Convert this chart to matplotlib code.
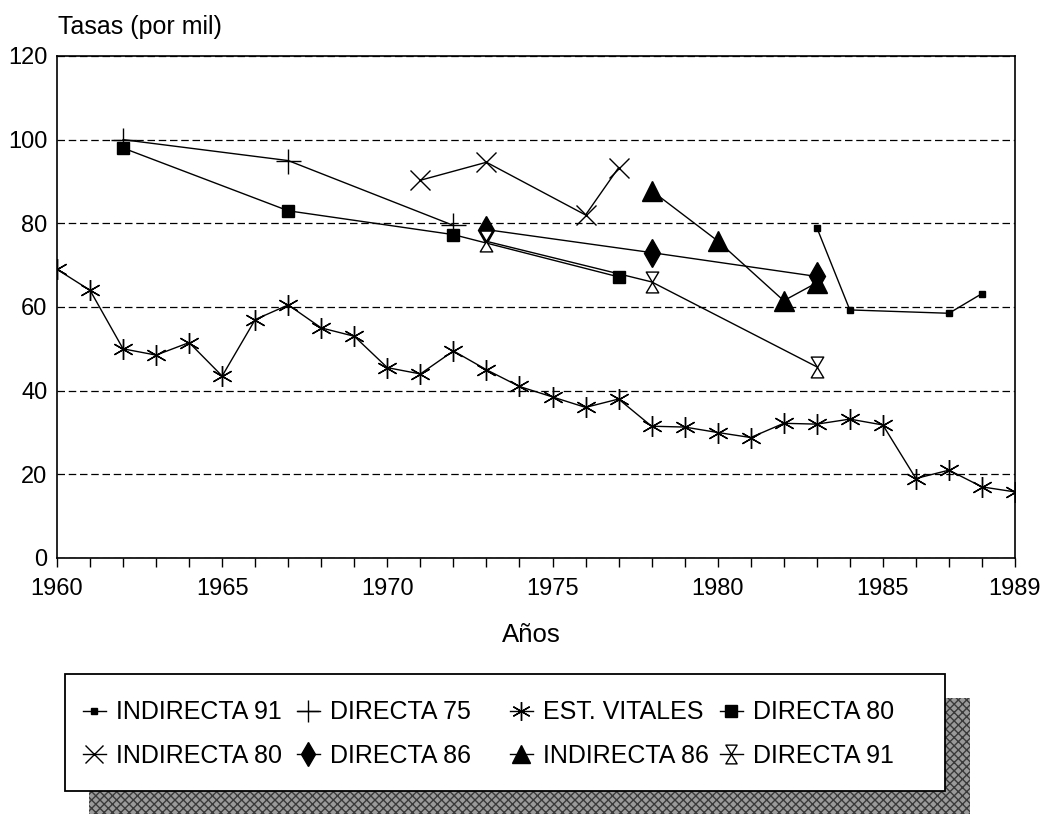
import numpy as np
import matplotlib
matplotlib.use("Agg")
import matplotlib.pyplot as plt
from matplotlib.path import Path
from matplotlib.patches import Rectangle
from matplotlib.ticker import MultipleLocator

plt.rcParams["font.family"] = ["Liberation Sans", "DejaVu Sans"]

# --- data ---
years_ev = [1960, 1961, 1962, 1963, 1964, 1965, 1966, 1967, 1968, 1969,
            1970, 1971, 1972, 1973, 1974, 1975, 1976, 1977, 1978, 1979,
            1980, 1981, 1982, 1983, 1984, 1985, 1986, 1987, 1988, 1989]
est_vitales = [69, 64, 50, 48.5, 51.5, 43.5, 57, 60.5, 55, 53,
               45.5, 44, 49.5, 45, 41, 38.5, 36, 38, 31.5, 31.3,
               30, 28.8, 32.2, 32, 33.2, 31.8, 19, 21, 17, 15.8]

years_d75 = [1962, 1967, 1972]
directa_75 = [100, 95, 79.5]

years_d80 = [1962, 1967, 1972, 1977]
directa_80 = [98, 83, 77.3, 67.2]

years_i80 = [1971, 1973, 1976, 1977]
indirecta_80 = [90.3, 94.6, 82, 93.3]

years_d86 = [1973, 1978, 1983]
directa_86 = [78.5, 73, 67.3]

years_i86 = [1978, 1980, 1982, 1983]
indirecta_86 = [87.8, 75.8, 61.5, 65.8]

years_d91 = [1973, 1978, 1983]
directa_91 = [75.7, 66, 45.7]

years_i91 = [1983, 1984, 1987, 1988]
indirecta_91 = [79, 59.3, 58.5, 63.2]

# hourglass marker (two open triangles tip to tip)
hourglass = Path([(-0.6, 1), (0.6, 1), (-0.6, -1), (0.6, -1), (-0.6, 1)],
                 [Path.MOVETO, Path.LINETO, Path.LINETO, Path.LINETO, Path.CLOSEPOLY])

fig = plt.figure(figsize=(10.43, 8.14), dpi=100)
W, H = 1043, 814
ax = fig.add_axes([57 / W, 1 - 558 / H, (1015 - 57) / W, (558 - 56) / H])

kw = dict(color="black", lw=1, zorder=3)
l_i91, = ax.plot(years_i91, indirecta_91, marker="s", ms=4.5, **kw)
l_d75, = ax.plot(years_d75, directa_75, marker="+", ms=18, mew=1, **kw)
l_ev, = ax.plot(years_ev, est_vitales, marker=(6, 2, 0), ms=15, mew=1, **kw)
l_d80, = ax.plot(years_d80, directa_80, marker="s", ms=9, **kw)
l_i80, = ax.plot(years_i80, indirecta_80, marker="x", ms=14, mew=1, **kw)
l_d86, = ax.plot(years_d86, directa_86, marker="d", ms=14, **kw)
l_i86, = ax.plot(years_i86, indirecta_86, marker="^", ms=14, **kw)
l_d91, = ax.plot(years_d91, directa_91, marker=hourglass, ms=15, mfc="white", mew=1, **kw)

ax.set_xlim(1960, 1989)
ax.set_ylim(0, 120)
ax.set_yticks([0, 20, 40, 60, 80, 100, 120])
ax.set_xticks([1960, 1965, 1970, 1975, 1980, 1985, 1989])
ax.xaxis.set_minor_locator(MultipleLocator(1))
ax.tick_params(axis="x", which="both", direction="out", length=6.5, width=1,
               labelsize=17, pad=8)
ax.tick_params(axis="y", length=0, labelsize=17, pad=7)
ax.yaxis.grid(True, linestyle=(0, (6, 3)), color="black", lw=0.9)
ax.set_axisbelow(True)
for s in ax.spines.values():
    s.set_linewidth(1.2)

fig.text(58 / W, 1 - 27 / H, "Tasas (por mil)", fontsize=18, va="center", ha="left")
fig.text(531 / W, 1 - 635 / H, "Años", fontsize=18.5, va="center", ha="center")

# legend box with shaded shadow
shadow = Rectangle((89 / W, 1 - 815 / H), (970 - 89) / W, (815 - 698) / H,
                   transform=fig.transFigure, facecolor="#9a9a9a", edgecolor="#3a3a3a",
                   hatch="xxxx", lw=0, zorder=1)
box = Rectangle((65 / W, 1 - 791 / H), (945 - 65) / W, (791 - 674) / H,
                transform=fig.transFigure, facecolor="white", edgecolor="black",
                lw=1.3, zorder=2)
fig.patches.extend([shadow, box])

columns = [
    ([l_i91, l_i80], ["INDIRECTA 91", "INDIRECTA 80"], 83),
    ([l_d75, l_d86], ["DIRECTA 75", "DIRECTA 86"], 297),
    ([l_ev, l_i86], ["EST. VITALES", "INDIRECTA 86"], 510),
    ([l_d80, l_d91], ["DIRECTA 80", "DIRECTA 91"], 720),
]
for handles, labels, x0 in columns:
    leg = fig.legend(handles, labels, loc="center left",
                     bbox_to_anchor=(x0 / W, 1 - 734 / H), frameon=False,
                     fontsize=18, handlelength=0.9, handletextpad=0.42,
                     labelspacing=0.78, borderpad=0, borderaxespad=0,
                     markerscale=0.9)
    leg.set_zorder(4)

fig.savefig("out.png", dpi=100)
